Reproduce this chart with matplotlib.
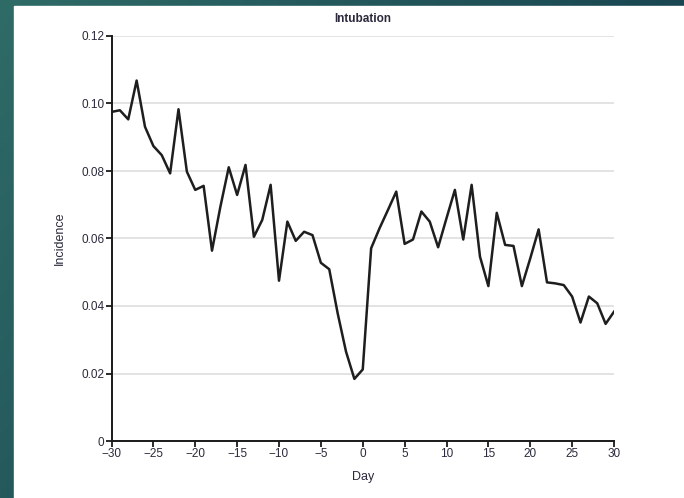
import numpy as np
import matplotlib
matplotlib.use("Agg")
import matplotlib.pyplot as plt
from matplotlib.patches import Rectangle
from matplotlib.colors import LinearSegmentedColormap

plt.rcParams['font.family'] = ['Liberation Sans', 'DejaVu Sans']

# daily incidence of intubation around day 0
days = list(range(-30, 31))
incidence = [
    0.0975, 0.0980, 0.0953, 0.1068, 0.0931, 0.0874, 0.0847, 0.0793, 0.0983, 0.0798,
    0.0744, 0.0756, 0.0564, 0.0694, 0.0811, 0.0729, 0.0818, 0.0605, 0.0655, 0.0759,
    0.0475, 0.0650, 0.0593, 0.0620, 0.0610, 0.0528, 0.0509, 0.0379, 0.0265, 0.0184,
    0.0212, 0.0571, 0.0630, 0.0684, 0.0739, 0.0584, 0.0597, 0.0680, 0.0650, 0.0574,
    0.0660, 0.0744, 0.0597, 0.0759, 0.0546, 0.0459, 0.0676, 0.0581, 0.0578, 0.0459,
    0.0541, 0.0627, 0.0470, 0.0467, 0.0462, 0.0428, 0.0351, 0.0428, 0.0408, 0.0347,
    0.0383,
]
xticks = list(range(-30, 31, 5))
yticks = [0, 0.02, 0.04, 0.06, 0.08, 0.10, 0.12]
ytick_labels = ["0", "0.02", "0.04", "0.06", "0.08", "0.10", "0.12"]

txt = "#2a2a3c"

fig = plt.figure(figsize=(6.84, 4.98), dpi=100)

# slide background: teal gradient with a white panel on top
bg = fig.add_axes([0, 0, 1, 1], zorder=-10)
gx, gy = np.meshgrid(np.linspace(0, 1, 200), np.linspace(0, 1, 200))
grad = 0.75 * gx + 0.35 * gy
cmap = LinearSegmentedColormap.from_list("teal", ["#2f6b67", "#0f3547"])
bg.imshow(grad, cmap=cmap, aspect="auto", extent=[0, 1, 0, 1], origin="upper")
bg.add_patch(Rectangle((14 / 684, 0), 1, 1 - 6 / 498, color="white", zorder=2))
bg.set_xlim(0, 1)
bg.set_ylim(0, 1)
bg.axis("off")

ax = fig.add_axes([111.5 / 684, 57 / 498, 502.5 / 684, 405 / 498])
ax.set_facecolor("none")
ax.plot(days, incidence, color="#1e1e1e", lw=1.8, zorder=3)

ax.set_xlim(-30, 30)
ax.set_ylim(0, 0.12)
ax.set_xticks(xticks)
ax.set_xticklabels([str(t).replace("-", "\u2212") for t in xticks])
ax.set_yticks(yticks)
ax.set_yticklabels(ytick_labels)
ax.yaxis.grid(True, color="#dedede", lw=1.2)
ax.set_axisbelow(True)

for s in ["top", "right"]:
    ax.spines[s].set_visible(False)
for s in ["left", "bottom"]:
    ax.spines[s].set_linewidth(1.4)
    ax.spines[s].set_color("#1a1a1a")

ax.tick_params(direction="out", length=4, width=1.3, color="#1a1a1a",
               labelsize=8.5, labelcolor=txt, pad=1)

ax.set_title("Intubation", fontsize=8.5, color=txt, fontweight="bold", pad=10)
ax.set_xlabel("Day", fontsize=9, color=txt, labelpad=8)
ax.set_ylabel("Incidence", fontsize=9, color=txt, labelpad=11)

fig.savefig("out.png", dpi=100)
